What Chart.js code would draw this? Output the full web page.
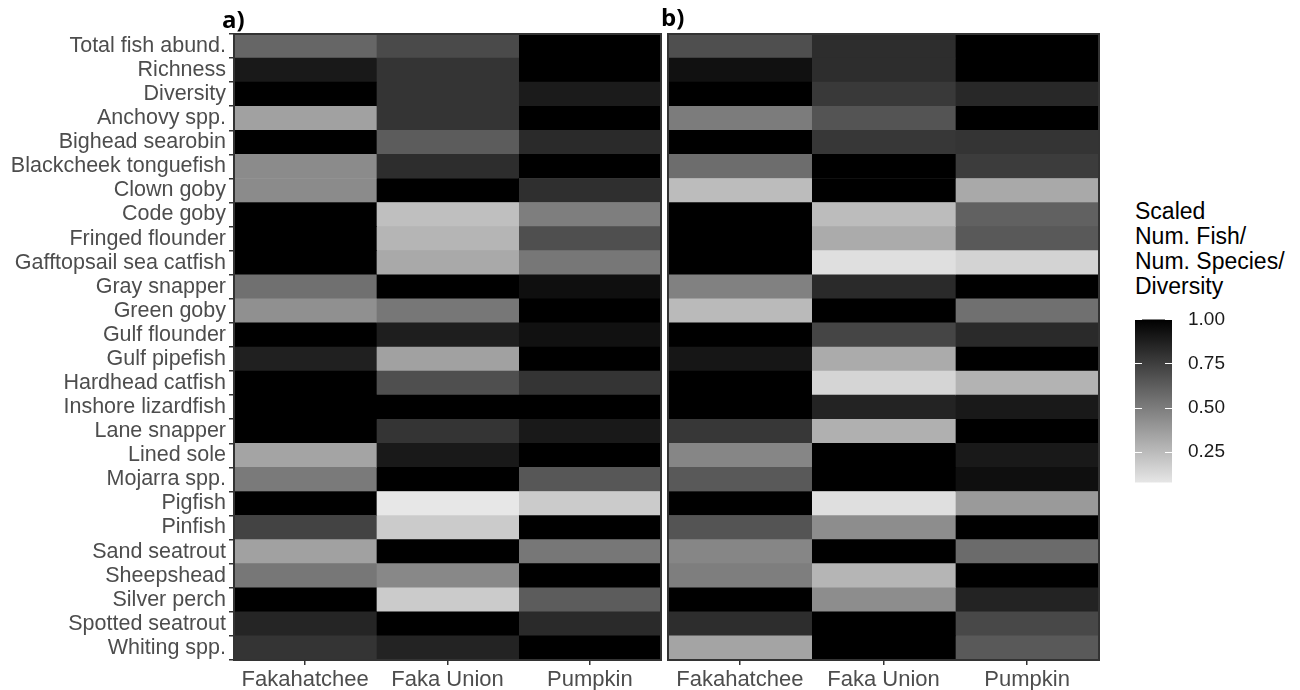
<!DOCTYPE html>
<html>
<head>
<meta charset="utf-8">
<script src="https://cdn.jsdelivr.net/npm/chart.js@4/dist/chart.umd.min.js"></script>
<style>
  html, body { margin: 0; padding: 0; background: #fff; }
  body { width: 1300px; height: 690px; position: relative; overflow: hidden; font-family: "Liberation Sans", Arial, sans-serif; }
  .box { position: absolute; }
  .panel-tag { position: absolute; font-family: "Open Sans", "Liberation Sans", sans-serif; font-weight: 700; font-size: 24px; color: #000; line-height: 1; }
  #legTitle { position: absolute; left: 1135px; top: 199px; font-size: 23px; line-height: 25px; color: #000; }
</style>
</head>
<body>
<div class="box" style="left:0;top:0;width:664px;height:690px;"><canvas id="ca" width="664" height="690"></canvas></div>
<div class="box" style="left:664px;top:0;width:438px;height:690px;"><canvas id="cb" width="438" height="690"></canvas></div>
<div class="box" style="left:1135px;top:300px;width:165px;height:202px;"><canvas id="cl" width="165" height="202"></canvas></div>
<div class="panel-tag" style="left:222px;top:7px;">a)</div>
<div class="panel-tag" style="left:661px;top:5px;">b)</div>
<div id="legTitle">Scaled<br>Num. Fish/<br>Num. Species/<br>Diversity</div>
<script>
// ---- data ----
const sites = ["Fakahatchee", "Faka Union", "Pumpkin"];
const rowsLabels = ["Total fish abund.", "Richness", "Diversity", "Anchovy spp.", "Bighead searobin",
  "Blackcheek tonguefish", "Clown goby", "Code goby", "Fringed flounder", "Gafftopsail sea catfish",
  "Gray snapper", "Green goby", "Gulf flounder", "Gulf pipefish", "Hardhead catfish",
  "Inshore lizardfish", "Lane snapper", "Lined sole", "Mojarra spp.", "Pigfish", "Pinfish",
  "Sand seatrout", "Sheepshead", "Silver perch", "Spotted seatrout", "Whiting spp."];

// panel a) scaled values per site (rows in order above)
const aFakahatchee = [0.59,0.90,1.00,0.35,1.00,0.44,0.44,1.00,1.00,1.00,0.55,0.42,1.00,0.87,1.00,1.00,1.00,0.34,0.51,1.00,0.73,0.35,0.52,1.00,0.85,0.79];
const aFakaUnion   = [0.70,0.79,0.79,0.79,0.63,0.82,1.00,0.23,0.27,0.32,1.00,0.52,0.88,0.35,0.68,1.00,0.79,0.90,1.00,0.07,0.18,1.00,0.45,0.18,1.00,0.86];
const aPumpkin     = [1.00,1.00,0.89,1.00,0.83,1.00,0.81,0.49,0.68,0.52,0.94,1.00,0.93,1.00,0.79,1.00,0.90,1.00,0.65,0.18,1.00,0.52,1.00,0.63,0.83,1.00];

// panel b) scaled values per site
const bFakahatchee = [0.68,0.93,1.00,0.50,1.00,0.56,0.24,1.00,1.00,1.00,0.48,0.25,1.00,0.91,1.00,1.00,0.78,0.46,0.64,1.00,0.66,0.46,0.49,1.00,0.82,0.34];
const bFakaUnion   = [0.82,0.82,0.77,0.66,0.78,1.00,1.00,0.24,0.31,0.10,0.83,1.00,0.72,0.31,0.14,0.86,0.29,1.00,1.00,0.10,0.43,1.00,0.27,0.43,1.00,1.00];
const bPumpkin     = [1.00,1.00,0.84,1.00,0.79,0.76,0.32,0.61,0.64,0.15,1.00,0.55,0.83,1.00,0.28,0.90,1.00,0.90,0.94,0.38,1.00,0.57,1.00,0.86,0.71,0.64];

const legendMin = 0.074, legendMax = 1.0;
const legendTicks = [0.25, 0.50, 0.75, 1.00];

// ---- helpers ----
function grayFor(v) {
  const g = Math.max(0, Math.min(255, Math.round(248 * (1 - v))));
  return `rgb(${g},${g},${g})`;
}
const labelColor = "#4d4d4d";
const yFont = { family: "'Liberation Sans', Arial, sans-serif", size: 21.5 };
const xFont = { family: "'Liberation Sans', Arial, sans-serif", size: 22 };

const borderPlugin = {
  id: "panelBorder",
  afterDraw(chart) {
    const a = chart.chartArea, ctx = chart.ctx;
    ctx.save();
    ctx.strokeStyle = "#333333";
    ctx.lineWidth = 2;
    ctx.strokeRect(a.left, a.top, a.right - a.left, a.bottom - a.top);
    ctx.restore();
  }
};

function makePanel(canvasId, seriesList, showY) {
  const datasets = seriesList.map((vals, j) => ({
    label: sites[j],
    data: vals.map(() => [j, j + 1]),
    backgroundColor: vals.map(grayFor),
    borderWidth: 0,
    barPercentage: 1.0,
    categoryPercentage: 1.0,
    grouped: false
  }));
  return new Chart(document.getElementById(canvasId), {
    type: "bar",
    data: { labels: rowsLabels, datasets },
    options: {
      indexAxis: "y",
      responsive: false,
      animation: false,
      layout: { padding: { top: 34, right: 3, bottom: 0, left: showY ? 0 : 4 } },
      plugins: { legend: { display: false }, tooltip: { enabled: false } },
      scales: {
        x: {
          type: "linear", min: 0, max: 3,
          afterBuildTicks: s => { s.ticks = [0.5, 1.5, 2.5].map(v => ({ value: v })); },
          afterFit: s => { s.height = 30; },
          ticks: {
            callback: v => sites[Math.round(v - 0.5)],
            color: labelColor, font: xFont, padding: 2, maxRotation: 0, autoSkip: false
          },
          grid: { drawOnChartArea: false, drawTicks: true, tickLength: 5, color: "#333333", lineWidth: 1.5 },
          border: { display: false }
        },
        y: {
          type: "category",
          display: showY,
          afterFit: s => { s.width = showY ? 234 : 0; },
          ticks: { color: labelColor, font: yFont, padding: 3, autoSkip: false },
          grid: { drawOnChartArea: false, drawTicks: true, tickLength: 5, color: "#333333", lineWidth: 1.5 },
          border: { display: false }
        }
      }
    },
    plugins: [borderPlugin]
  });
}

makePanel("ca", [aFakahatchee, aFakaUnion, aPumpkin], true);
makePanel("cb", [bFakahatchee, bFakaUnion, bPumpkin], false);

// ---- colour bar legend ----
const legendTickMarks = {
  id: "legendTickMarks",
  afterDatasetsDraw(chart) {
    const ctx = chart.ctx, a = chart.chartArea, ys = chart.scales.y;
    ctx.save();
    ctx.strokeStyle = "#ffffff";
    ctx.lineWidth = 1;
    legendTicks.forEach(t => {
      const y = Math.round(ys.getPixelForValue(t)) + 0.5;
      ctx.beginPath();
      ctx.moveTo(a.left, y); ctx.lineTo(a.left + 7, y);
      ctx.moveTo(a.right - 7, y); ctx.lineTo(a.right, y);
      ctx.stroke();
    });
    ctx.restore();
  }
};

new Chart(document.getElementById("cl"), {
  type: "bar",
  data: {
    labels: [""],
    datasets: [{
      data: [[legendMin, legendMax]],
      backgroundColor: (c) => {
        const ch = c.chart, a = ch.chartArea;
        if (!a) return "#888";
        const ys = ch.scales.y;
        const g = ch.ctx.createLinearGradient(0, ys.getPixelForValue(legendMin), 0, ys.getPixelForValue(legendMax));
        for (let i = 0; i <= 10; i++) {
          const v = legendMin + (legendMax - legendMin) * i / 10;
          g.addColorStop(i / 10, grayFor(v));
        }
        return g;
      },
      borderWidth: 0,
      barPercentage: 1.0,
      categoryPercentage: 1.0
    }]
  },
  options: {
    responsive: false,
    animation: false,
    layout: { padding: { top: 10, right: 0, bottom: 7, left: 0 } },
    plugins: { legend: { display: false }, tooltip: { enabled: false } },
    scales: {
      x: { display: false },
      y: {
        type: "linear", position: "right", min: legendMin, max: legendMax,
        afterBuildTicks: s => { s.ticks = legendTicks.map(v => ({ value: v })); },
        afterFit: s => { s.width = 128; },
        ticks: { callback: v => Number(v).toFixed(2), color: "#1a1a1a", font: { family: "'Liberation Sans', Arial, sans-serif", size: 19 }, padding: 8 },
        grid: { display: false },
        border: { display: false }
      }
    }
  },
  plugins: [legendTickMarks]
});
</script>
</body>
</html>
